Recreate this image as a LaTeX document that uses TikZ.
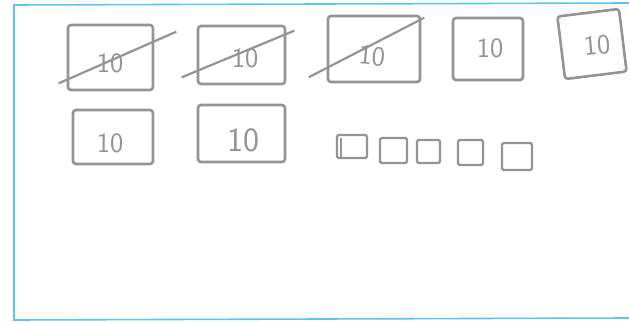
\documentclass[tikz,border=0pt]{standalone}
\usepackage{xcolor}
\usetikzlibrary{positioning,calc}
\definecolor{pencil}{RGB}{148,148,148}
\definecolor{frameblue}{RGB}{95,195,235}

\begin{document}
\begin{tikzpicture}[
  x=1pt, y=-1pt,
  font=\sffamily,
  card/.style={draw=pencil, line width=2.6pt, rounded corners=3pt, inner sep=0pt},
  chip/.style={card, line width=2.2pt, rounded corners=1.5pt},
  num/.style={text=pencil, font=\sffamily\fontsize{28}{28}\selectfont, inner sep=0pt},
  strike/.style={draw=pencil, line width=2.2pt},
  frame/.style={draw=frameblue, line width=1.6pt},
]
\useasboundingbox (0,0) rectangle (629,323);

% Frame of the sheet
\coordinate (ftl) at (14,5);
\coordinate (ftr) at (629,3);
\coordinate (fbl) at (14,320);
\coordinate (fbr) at (629,318);
\draw[frame] (ftr) -- (ftl) -- (fbl) -- (fbr);

% Top row: cards
\node[card, minimum width=85pt, minimum height=65pt] (c1) at (110.5,57.5) {};
\node[card, minimum width=87pt, minimum height=58pt] (c2) at (241.5,55) {};
\node[card, minimum width=92pt, minimum height=66pt] (c3) at (374,49) {};
\node[card, minimum width=70pt, minimum height=62pt] (c4) at (488,49) {};
\node[card, minimum width=62pt, minimum height=63pt, rotate=7] (c5) at (592,44) {};

\node[num] (t1) at (110,63) {10};
\node[num] (t2) at (245,58) {10};
\node[num, rotate=-5] (t3) at (372,56) {10};
\node[num] (t4) at (490,48) {10};
\node[num, rotate=5] (t5) at (597,45) {10};

% Crossed out
\draw[strike] ($(c1.south west)+(-8,-8)$) -- ($(c1.north east)+(22,8)$);
\draw[strike] ($(c2.south west)+(-15,-8)$) -- ($(c2.north east)+(8,6)$);
\draw[strike] ($(c3.south west)+(-18,-6)$) -- ($(c3.north east)+(3,3)$);

% Second row
\node[card, minimum width=80pt, minimum height=54pt] (c6) at (113,137) {};
\node[card, minimum width=87pt, minimum height=57pt] (c7) at (241.5,133.5) {};
\node[num] (t6) at (110,143) {10};
\node[num, font=\sffamily\fontsize{34}{34}\selectfont] (t7) at (243,140) {10};

% Small cards
\node[chip, minimum width=30pt, minimum height=23pt] (s1) at (352,146.5) {};
\node[chip, minimum width=27pt, minimum height=25pt] (s2) at (393.5,150.5) {};
\node[chip, minimum width=23pt, minimum height=23pt] (s3) at (428.5,151.5) {};
\node[chip, minimum width=25pt, minimum height=25pt] (s4) at (470.5,152.5) {};
\node[chip, minimum width=30pt, minimum height=27pt] (s5) at (517,156.5) {};
\draw[strike] ($(s1.north west)+(5,4)$) -- ($(s1.south west)+(5,0)$);

\end{tikzpicture}
\end{document}
